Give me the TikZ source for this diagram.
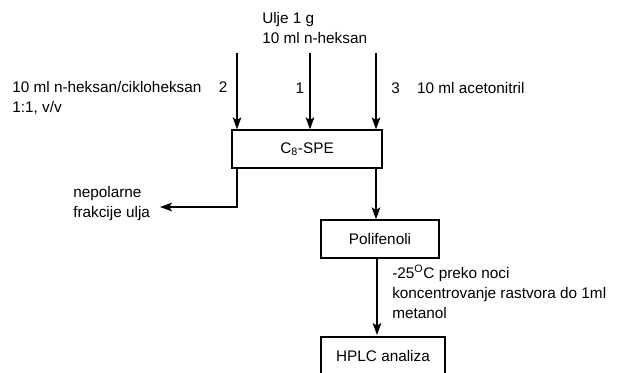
\documentclass[tikz,border=0pt]{standalone}
\usepackage{fontspec}
\setmainfont{Liberation Sans}
\usepackage{tikz}
\usetikzlibrary{arrows.meta}

\begin{document}
\begin{tikzpicture}[x=0.75pt,y=-0.75pt,
    every node/.style={font=\fontsize{11.5}{15}\selectfont,inner sep=0pt},
    box/.style={draw,line width=1pt,minimum height=28.5pt,inner sep=0pt},
    flow/.style={line width=1.1pt,-{Stealth[length=9pt,width=6.5pt,inset=2pt]}}]

    \useasboundingbox (0,0) rectangle (621,373);

    \node[anchor=west,align=left]   (oil)  at (262, 28)   {Ulje 1 g\\10 ml n-heksan};
    \node[box,minimum width=112.5pt] (spe) at (307, 149)  {C\textsubscript{8}-SPE};
    \node[box,minimum width=88.5pt]  (poli) at (380, 239) {Polifenoli};
    \node[box,minimum width=93pt]    (hplc) at (383, 356) {HPLC analiza};

    \node[anchor=west,align=left]   (mix)  at (12, 98)    {10 ml n-heksan/cikloheksan\hspace{13pt}2\\1:1, v/v};
    \node                           (one)  at (300, 88)   {1};
    \node[anchor=west]              (acn)  at (391, 88)   {3\hspace{13pt}10 ml acetonitril};
    \node[anchor=west,align=left]   (npf)  at (73, 204)   {nepolarne\\frakcije ulja};
    \node[anchor=west,align=left]   (cond) at (392, 292)  {-25\textsuperscript{O}C preko noci\\koncentrovanje rastvora do 1ml\\metanol};

    \coordinate (in2) at (237, 53);
    \coordinate (in1) at (310, 53);
    \coordinate (in3) at (376, 53);
    \coordinate (out) at (160, 207);

    \draw[flow] (in2) -- (in2 |- spe.north);
    \draw[flow] (in1) -- (in1 |- spe.north);
    \draw[flow] (in3) -- (in3 |- spe.north);
    \draw[flow] (in2 |- spe.south) |- (out);
    \draw[flow] (in3 |- spe.south) -- (in3 |- poli.north);
    \draw[flow] (377, 258) -- (377, 335);
  \end{tikzpicture}
\end{document}
